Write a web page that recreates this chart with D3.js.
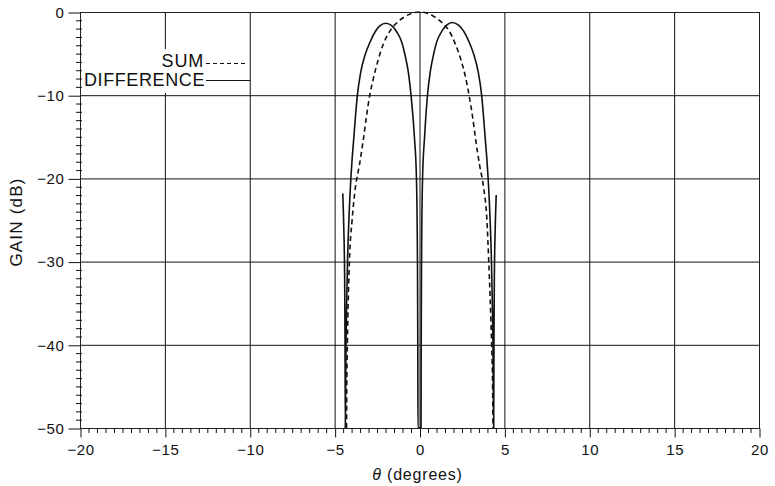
<!DOCTYPE html>
<html>
<head>
<meta charset="utf-8">
<script src="https://cdn.jsdelivr.net/npm/d3@7"></script>
<style>
  html, body { margin: 0; padding: 0; background: #fff; }
  svg { display: block; }
  text { font-family: "Liberation Sans", Arial, Helvetica, sans-serif; fill: #111; }
</style>
</head>
<body>
<svg id="chart" width="775" height="486"></svg>
<script>
// Monopulse antenna patterns: sum and difference gain vs. angle off boresight
const xTicks = [-20, -15, -10, -5, 0, 5, 10, 15, 20];
const yTicks = [0, -10, -20, -30, -40, -50];

// Sum pattern (dashed)
const sumTheta = [-4.30, -4.28, -4.25, -4.13, -3.97, -3.77, -3.54, -3.32, -3.12, -2.93, -2.72, -2.44, -2.14,
                  -1.76, -1.36, -0.86, -0.40, 0, 0.40, 0.86, 1.36, 1.74, 2.12, 2.45, 2.73, 2.92,
                  3.12, 3.32, 3.54, 3.77, 3.97, 4.08, 4.25, 4.30, 4.33];
const sumGain  = [-50, -44, -40, -30, -25, -21, -18.4, -15.5, -12.5, -10, -8, -5.8, -3.9,
                  -2.35, -1.35, -0.55, -0.12, 0, -0.12, -0.55, -1.35, -2.25, -3.9, -5.8, -8, -10,
                  -12.5, -15.5, -18.4, -21, -25, -30, -40, -44, -50];

// Difference pattern (solid)
const diffTheta = [-4.52, -4.46, -4.41, -4.39, -4.37, -4.33, -4.29, -4.24, -4.16, -4.07, -3.98, -3.88, -3.77, -3.66,
                   -3.46, -3.21, -2.91, -2.62, -2.32, -1.99, -1.64, -1.34, -1.05, -0.85, -0.66, -0.50,
                   -0.30, -0.18, -0.14, -0.12, -0.10, -0.09, 0,
                   0.09, 0.10, 0.12, 0.14, 0.18, 0.30, 0.47, 0.64, 0.83, 1.03, 1.32, 1.62, 1.92,
                   2.28, 2.60, 2.90, 3.20, 3.45, 3.66, 3.77, 3.88, 3.98, 4.07, 4.16, 4.24, 4.29, 4.33, 4.37,
                   4.39, 4.41, 4.46, 4.52];
const diffGain  = [-21.8, -26, -31.8, -38, -50, -40, -35, -30, -25, -21, -18, -15.4, -12.5, -10,
                   -7.2, -5.2, -3.6, -2.4, -1.65, -1.36, -1.65, -2.4, -3.6, -5.2, -7.2, -10,
                   -15, -20, -25, -30, -40, -50, -50,
                   -50, -40, -30, -25, -20, -15, -10, -7.1, -5.1, -3.5, -2.3, -1.55, -1.26,
                   -1.55, -2.3, -3.5, -5.1, -7.1, -10, -12.5, -15.4, -18, -21, -25, -30, -35, -40, -50,
                   -38, -31.8, -26, -22];

const svg = d3.select("#chart");
const x = d3.scaleLinear().domain([-20, 20]).range([80, 759]);
const y = d3.scaleLinear().domain([-50, 0]).range([428, 12]);

// Grid
const grid = svg.append("g").attr("stroke", "#111").attr("stroke-width", 1);
grid.selectAll("line.v").data(xTicks.slice(1, -1)).join("line")
  .attr("x1", d => x(d) + 0.5).attr("x2", d => x(d) + 0.5)
  .attr("y1", y(0)).attr("y2", y(-50));
grid.selectAll("line.h").data(yTicks.slice(1, -1)).join("line")
  .attr("x1", x(-20)).attr("x2", x(20))
  .attr("y1", d => y(d) + 0.5).attr("y2", d => y(d) + 0.5);

// Frame
svg.append("rect")
  .attr("x", x(-20) + 0.5).attr("y", y(0) + 0.5)
  .attr("width", x(20) - x(-20)).attr("height", y(-50) - y(0))
  .attr("fill", "none").attr("stroke", "#222").attr("stroke-width", 1);

// Minor ticks
const xMinor = d3.range(-20, 20.001, 0.5).filter(v => Math.abs(v % 5) > 1e-6);
svg.append("g").attr("stroke", "#111").attr("stroke-width", 1)
  .selectAll("line").data(xMinor).join("line")
  .attr("x1", d => x(d) + 0.5).attr("x2", d => x(d) + 0.5)
  .attr("y1", y(-50)).attr("y2", y(-50) + 5);
const yMinor = d3.range(-50, 0.001, 1).filter(v => Math.abs(v % 10) > 1e-6);
svg.append("g").attr("stroke", "#111").attr("stroke-width", 1)
  .selectAll("line").data(yMinor).join("line")
  .attr("x1", x(-20) - 4).attr("x2", x(-20) + 2)
  .attr("y1", d => y(d) + 0.5).attr("y2", d => y(d) + 0.5);

// Axes with major ticks and labels
const fmt = d => d3.format("d")(d).replace("-", "\u2212");
const xAxis = svg.append("g").attr("transform", `translate(0.5,${y(-50) + 0.5})`)
  .call(d3.axisBottom(x).tickValues(xTicks).tickSize(9).tickPadding(7).tickFormat(fmt));
const yAxis = svg.append("g").attr("transform", `translate(${x(-20) + 0.5},0.5)`)
  .call(d3.axisLeft(y).tickValues(yTicks).tickSize(12).tickPadding(4).tickFormat(fmt));
[xAxis, yAxis].forEach(g => {
  g.select(".domain").remove();
  g.selectAll(".tick line").attr("stroke", "#111");
  g.selectAll(".tick text").attr("font-size", 15).attr("fill", "#111")
    .attr("font-family", "'Liberation Sans', Arial, sans-serif").style("letter-spacing", "0.6px");
});

// Legend box
const lg = svg.append("g");
lg.append("rect").attr("x", 82).attr("y", 49).attr("width", 166).attr("height", 44).attr("fill", "#fff");
lg.append("text").attr("x", 204).attr("y", 67).attr("text-anchor", "end")
  .attr("font-size", 18).style("letter-spacing", "0.8px").text("SUM");
lg.append("line").attr("x1", 206).attr("x2", 247).attr("y1", 63.5).attr("y2", 63.5)
  .attr("stroke", "#111").attr("stroke-width", 1.2).attr("stroke-dasharray", "4,3");
lg.append("text").attr("x", 205).attr("y", 86).attr("text-anchor", "end")
  .attr("font-size", 18).style("letter-spacing", "0.6px").text("DIFFERENCE");
lg.append("line").attr("x1", 206).attr("x2", 250).attr("y1", 80.5).attr("y2", 80.5)
  .attr("stroke", "#111").attr("stroke-width", 1.2);

// Curves
svg.append("clipPath").attr("id", "plotClip").append("rect")
  .attr("x", x(-20)).attr("y", y(0) - 1).attr("width", x(20) - x(-20)).attr("height", y(-50) - y(0) + 1);
const path = d3.line().x(d => x(d[0])).y(d => y(d[1])).curve(d3.curveMonotoneX);
const sumData = sumTheta.map((t, i) => [t, sumGain[i]]);
const diffData = diffTheta.map((t, i) => [t, diffGain[i]]);
const curves = svg.append("g").attr("clip-path", "url(#plotClip)").attr("fill", "none");
curves.append("path").datum(sumData).attr("d", path)
  .attr("stroke", "#111").attr("stroke-width", 1.6).attr("stroke-dasharray", "5,3.5");
curves.append("path").datum(diffData).attr("d", path)
  .attr("stroke", "#111").attr("stroke-width", 1.6);

// Axis titles
svg.append("text").attr("transform", `translate(22,${(y(0) + y(-50)) / 2 + 2}) rotate(-90)`)
  .attr("text-anchor", "middle").attr("font-size", 17).style("letter-spacing", "1.2px")
  .text("GAIN (dB)");
const xt = svg.append("text").attr("x", (x(-20) + x(20)) / 2 - 2).attr("y", 480)
  .attr("text-anchor", "middle").attr("font-size", 16).style("letter-spacing", "0.8px");
xt.append("tspan").attr("font-style", "italic").text("\u03b8");
xt.append("tspan").text(" (degrees)");
</script>
</body>
</html>
